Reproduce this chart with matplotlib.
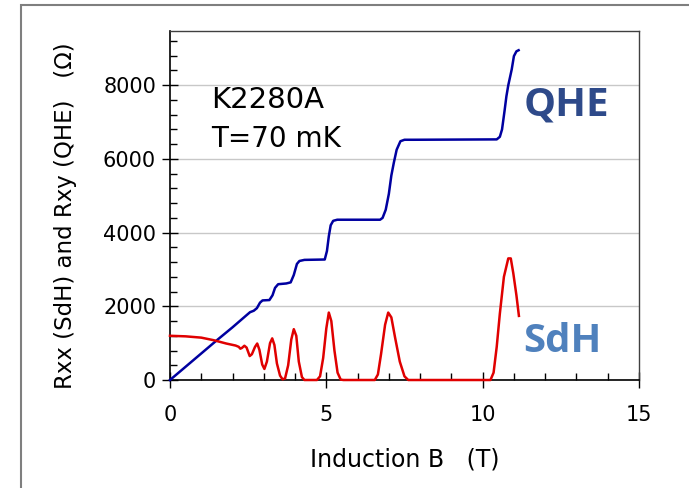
import matplotlib
matplotlib.use("Agg")
from matplotlib import pyplot as plt
from matplotlib.ticker import MultipleLocator
from matplotlib.patches import Rectangle

# Rxy (QHE)
b_qhe = [0.0, 0.5, 1.0, 1.5, 2.0, 2.3, 2.45, 2.56, 2.68, 2.78, 2.88, 2.96, 3.18,
         3.28, 3.36, 3.46, 3.72, 3.86, 3.96, 4.06, 4.14, 4.3, 4.95, 5.02, 5.08,
         5.14, 5.22, 5.35, 6.72, 6.8, 6.9, 7.0, 7.08, 7.16, 7.25, 7.37, 7.5,
         7.8, 10.45, 10.55, 10.62, 10.7, 10.76, 10.82, 10.93, 11.0, 11.08, 11.15]
r_qhe = [0, 360, 720, 1080, 1430, 1650, 1760, 1840, 1880, 1950, 2100, 2160, 2170,
         2300, 2500, 2600, 2620, 2650, 2850, 3150, 3230, 3260, 3270, 3500, 3900,
         4200, 4320, 4350, 4350, 4400, 4620, 5050, 5550, 5900, 6250, 6480, 6520,
         6520, 6530, 6600, 6800, 7300, 7700, 8000, 8430, 8790, 8920, 8950]

# Rxx (SdH)
b_sdh = [0.0, 0.5, 1.0, 1.4, 1.8, 2.1, 2.2, 2.25, 2.3, 2.38, 2.45, 2.55, 2.62,
         2.72, 2.79, 2.86, 2.95, 3.02, 3.1, 3.2, 3.27, 3.34, 3.42, 3.52, 3.6,
         3.68, 3.78, 3.88, 3.96, 4.04, 4.12, 4.22, 4.3, 4.7, 4.8, 4.9, 5.0,
         5.08, 5.16, 5.26, 5.36, 5.46, 5.55, 6.55, 6.65, 6.75, 6.88, 6.98, 7.08,
         7.2, 7.35, 7.5, 7.62, 10.25, 10.35, 10.45, 10.55, 10.68, 10.82, 10.9,
         10.98, 11.08, 11.16]
r_sdh = [1200, 1185, 1150, 1080, 990, 935, 900, 850, 870, 930, 880, 650, 700,
         900, 990, 820, 420, 300, 500, 1000, 1130, 950, 450, 120, 20,
         40, 400, 1100, 1380, 1200, 500, 80, 0, 0, 100, 600, 1400,
         1830, 1600, 800, 200, 10, 0, 0, 150, 700, 1500, 1830, 1700,
         1150, 500, 100, 0, 0, 200, 900, 1800, 2800, 3300, 3300,
         2900, 2300, 1740]

x_ticks = [0, 5, 10, 15]
y_ticks = [0, 2000, 4000, 6000, 8000]

fig = plt.figure(figsize=(6.89, 4.88), dpi=100)
ax = fig.add_axes([0.2467, 0.2213, 0.6807, 0.7158])

# outer frame of the picture
fig.patches.append(Rectangle((21/689, -0.1), 1.2, 1.1 - 5/488, transform=fig.transFigure,
                             fill=False, edgecolor="#7f7f7f", lw=1.5))

ax.plot(b_qhe, r_qhe, color="#0000a0", lw=1.8, zorder=3, clip_on=False)
ax.plot(b_sdh, r_sdh, color="#e00000", lw=1.8, zorder=3, clip_on=False)

ax.set_xlim(0, 15)
ax.set_ylim(0, 9480)
ax.set_xticks(x_ticks)
ax.set_yticks(y_ticks)
ax.xaxis.set_minor_locator(MultipleLocator(1))
ax.yaxis.set_minor_locator(MultipleLocator(400))
ax.grid(axis="y", color="#c8c8c8", lw=1)
ax.set_axisbelow(True)

ax.tick_params(which="major", direction="inout", length=12, width=1, labelsize=15)
ax.tick_params(axis="x", which="major", pad=12)
ax.tick_params(axis="y", which="major", pad=4)
ax.tick_params(which="minor", direction="in", length=5, width=1)

for s in ["left", "bottom"]:
    ax.spines[s].set_color("black")
    ax.spines[s].set_linewidth(1.2)
for s in ["top", "right"]:
    ax.spines[s].set_color("#404040")
    ax.spines[s].set_linewidth(1)

ax.set_xlabel("Induction B   (T)", fontsize=17, labelpad=16)
ax.set_ylabel("Rxx (SdH) and Rxy (QHE)   (\u03a9)", fontsize=16.5)
ax.yaxis.set_label_coords(-0.198, 0.47)

ax.text(1.31, 7600, "K2280A", fontsize=21, va="center", ha="left")
ax.text(1.31, 6530, "T=70 mK", fontsize=20, va="center", ha="left")
ax.text(11.3, 7450, "QHE", fontsize=29, fontweight="bold", family="Open Sans",
        color="#2e4a8a", va="center", ha="left")
ax.text(11.3, 1050, "SdH", fontsize=29, fontweight="bold", family="Open Sans",
        color="#4f81bd", va="center", ha="left")

fig.savefig("out.png", dpi=100)
